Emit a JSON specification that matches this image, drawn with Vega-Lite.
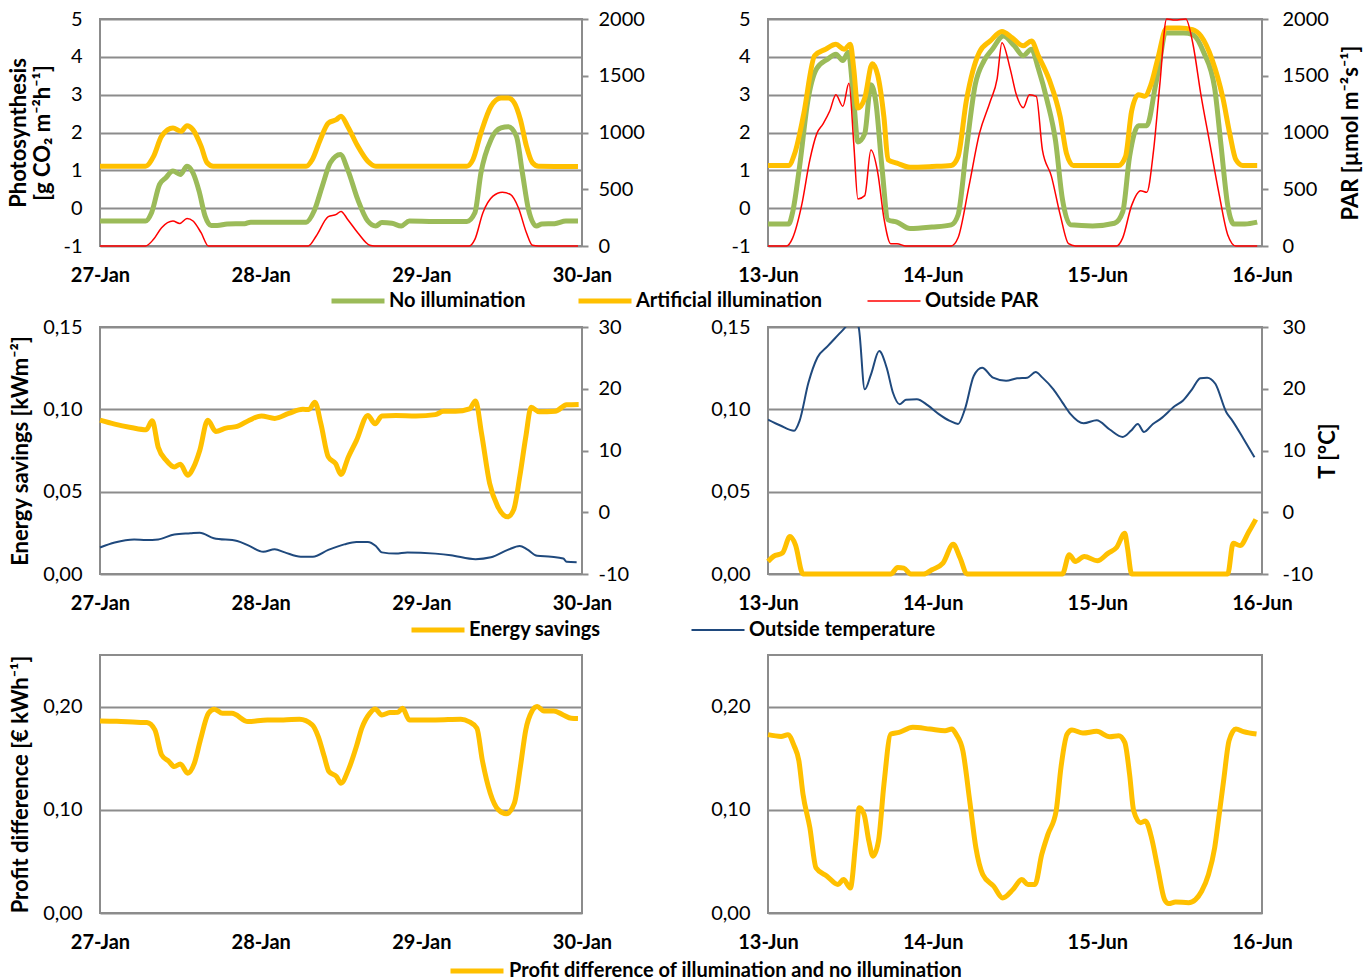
{
  "$schema": "https://vega.github.io/schema/vega-lite/v6.json",
  "padding": {"left": 6, "top": 8, "right": 5, "bottom": 30},
  "bounds": "flush",
  "columns": 2,
  "spacing": {"row": 81, "column": 186},
  "resolve": {"scale": {"color": "independent"}, "legend": {"color": "independent"}},
  "datasets": {
    "janNo": [{"h":0,"v":-0.34},{"h":3,"v":-0.34},{"h":6.8,"v":-0.34},{"h":7.7,"v":-0.12},{"h":8.9,"v":0.63},{"h":9.8,"v":0.8},{"h":10.9,"v":0.98},{"h":12,"v":0.89},{"h":13,"v":1.11},{"h":13.9,"v":0.93},{"h":14.8,"v":0.45},{"h":15.7,"v":-0.21},{"h":16.6,"v":-0.46},{"h":17.5,"v":-0.46},{"h":19,"v":-0.42},{"h":21.6,"v":-0.41},{"h":22.5,"v":-0.37},{"h":26,"v":-0.37},{"h":30.8,"v":-0.37},{"h":32,"v":-0.07},{"h":33.2,"v":0.58},{"h":34.4,"v":1.2},{"h":35.9,"v":1.42},{"h":37,"v":1.02},{"h":38.5,"v":0.23},{"h":40,"v":-0.34},{"h":41.2,"v":-0.47},{"h":42.1,"v":-0.38},{"h":43.6,"v":-0.4},{"h":45,"v":-0.47},{"h":46.2,"v":-0.34},{"h":50,"v":-0.35},{"h":54.8,"v":-0.35},{"h":56,"v":-0.12},{"h":56.9,"v":0.93},{"h":58.4,"v":1.81},{"h":59.9,"v":2.12},{"h":61,"v":2.15},{"h":62.2,"v":1.9},{"h":63.1,"v":0.93},{"h":64,"v":-0.03},{"h":65.2,"v":-0.47},{"h":66,"v":-0.42},{"h":67.9,"v":-0.41},{"h":69.6,"v":-0.34},{"h":71.4,"v":-0.34}],
    "janArt": [{"h":0,"v":1.11},{"h":3,"v":1.11},{"h":6.8,"v":1.11},{"h":8,"v":1.37},{"h":9.2,"v":1.9},{"h":10.9,"v":2.12},{"h":12.1,"v":2.03},{"h":13,"v":2.18},{"h":13.9,"v":2.07},{"h":15.1,"v":1.64},{"h":16,"v":1.2},{"h":16.9,"v":1.11},{"h":20,"v":1.11},{"h":25,"v":1.11},{"h":30.8,"v":1.11},{"h":31.7,"v":1.28},{"h":32.9,"v":1.81},{"h":34.1,"v":2.25},{"h":35.3,"v":2.34},{"h":36,"v":2.43},{"h":37,"v":2.16},{"h":38.5,"v":1.64},{"h":40,"v":1.24},{"h":41.2,"v":1.11},{"h":45,"v":1.11},{"h":50,"v":1.11},{"h":54.8,"v":1.11},{"h":55.7,"v":1.28},{"h":56.9,"v":1.99},{"h":58.4,"v":2.69},{"h":59.9,"v":2.91},{"h":61,"v":2.91},{"h":61.9,"v":2.78},{"h":62.8,"v":2.34},{"h":63.7,"v":1.64},{"h":64.6,"v":1.2},{"h":65.5,"v":1.11},{"h":71.4,"v":1.1}],
    "janPAR": [{"h":0,"v":0},{"h":6.8,"v":0},{"h":8,"v":59},{"h":9.2,"v":161},{"h":10.9,"v":220},{"h":11.9,"v":199},{"h":13,"v":243},{"h":13.9,"v":220},{"h":15.1,"v":117},{"h":16.2,"v":0},{"h":31.1,"v":0},{"h":32.3,"v":88},{"h":34.1,"v":258},{"h":35.3,"v":278},{"h":36,"v":305},{"h":37,"v":234},{"h":38.5,"v":117},{"h":40.3,"v":6},{"h":41,"v":0},{"h":55.1,"v":0},{"h":56,"v":59},{"h":57.2,"v":293},{"h":58.7,"v":439},{"h":60.1,"v":474},{"h":61.3,"v":454},{"h":62.5,"v":337},{"h":63.7,"v":117},{"h":64.6,"v":6},{"h":65.5,"v":0},{"h":71.4,"v":0}],
    "junNo": [{"h":0,"v":-0.42},{"h":3,"v":-0.42},{"h":3.6,"v":-0.1},{"h":4.6,"v":1.1},{"h":5.8,"v":2.83},{"h":7.1,"v":3.69},{"h":8.7,"v":3.94},{"h":9.9,"v":4.07},{"h":10.9,"v":3.9},{"h":11.7,"v":4.12},{"h":12.5,"v":2.83},{"h":13.1,"v":1.75},{"h":14.1,"v":1.97},{"h":15,"v":3.26},{"h":15.7,"v":2.83},{"h":16.6,"v":1.1},{"h":17.5,"v":-0.31},{"h":18.8,"v":-0.37},{"h":20.7,"v":-0.54},{"h":23.9,"v":-0.5},{"h":26.7,"v":-0.44},{"h":27.7,"v":-0.18},{"h":28.9,"v":1.54},{"h":30.2,"v":3.26},{"h":31.5,"v":3.9},{"h":32.7,"v":4.2},{"h":34.3,"v":4.55},{"h":35.9,"v":4.29},{"h":37.2,"v":4.03},{"h":38.4,"v":4.2},{"h":39.4,"v":3.69},{"h":40.7,"v":2.83},{"h":41.9,"v":1.79},{"h":42.9,"v":0.25},{"h":44.1,"v":-0.44},{"h":47.3,"v":-0.47},{"h":50.5,"v":-0.4},{"h":51.7,"v":-0.1},{"h":52.7,"v":1.36},{"h":54,"v":2.18},{"h":55.2,"v":2.18},{"h":56.5,"v":3.26},{"h":58.1,"v":4.63},{"h":60.6,"v":4.63},{"h":61.9,"v":4.59},{"h":63.5,"v":4.12},{"h":65.1,"v":3.17},{"h":66,"v":1.71},{"h":67,"v":0.08},{"h":67.9,"v":-0.42},{"h":69.5,"v":-0.42},{"h":71.3,"v":-0.37}],
    "junArt": [{"h":0,"v":1.13},{"h":3,"v":1.13},{"h":3.9,"v":1.45},{"h":5.2,"v":2.48},{"h":6.8,"v":4.03},{"h":8.4,"v":4.2},{"h":9.9,"v":4.33},{"h":11.1,"v":4.2},{"h":12,"v":4.33},{"h":12.5,"v":3.68},{"h":13.1,"v":2.65},{"h":14.1,"v":2.91},{"h":15.2,"v":3.82},{"h":16,"v":3.51},{"h":16.9,"v":2.4},{"h":17.5,"v":1.28},{"h":18.8,"v":1.19},{"h":20.7,"v":1.08},{"h":23.9,"v":1.1},{"h":26.7,"v":1.13},{"h":27.7,"v":1.36},{"h":28.9,"v":2.83},{"h":30.8,"v":4.12},{"h":32.4,"v":4.42},{"h":34.1,"v":4.67},{"h":35.6,"v":4.5},{"h":37.2,"v":4.29},{"h":38.4,"v":4.42},{"h":39.4,"v":4.03},{"h":41,"v":3.39},{"h":42.6,"v":2.4},{"h":43.5,"v":1.45},{"h":44.5,"v":1.13},{"h":48,"v":1.13},{"h":51.1,"v":1.13},{"h":52.1,"v":1.36},{"h":53,"v":2.57},{"h":54,"v":3},{"h":54.9,"v":2.96},{"h":55.8,"v":3.26},{"h":56.8,"v":3.94},{"h":58.1,"v":4.76},{"h":60,"v":4.76},{"h":61.9,"v":4.72},{"h":63.1,"v":4.55},{"h":64.7,"v":3.94},{"h":66.3,"v":2.91},{"h":67.3,"v":1.97},{"h":68.2,"v":1.28},{"h":69.2,"v":1.13},{"h":71.3,"v":1.13}],
    "junPAR": [{"h":0,"v":0},{"h":2.7,"v":0},{"h":3.6,"v":72},{"h":4.9,"v":358},{"h":6.1,"v":759},{"h":7.1,"v":988},{"h":8,"v":1074},{"h":9,"v":1189},{"h":9.9,"v":1332},{"h":10.9,"v":1232},{"h":11.8,"v":1433},{"h":12.5,"v":902},{"h":13.1,"v":415},{"h":14.1,"v":444},{"h":15,"v":845},{"h":16,"v":645},{"h":16.9,"v":244},{"h":17.9,"v":20},{"h":18.8,"v":20},{"h":20.1,"v":0},{"h":26.7,"v":0},{"h":27.7,"v":72},{"h":29.3,"v":530},{"h":30.8,"v":988},{"h":32.4,"v":1275},{"h":33.4,"v":1475},{"h":34.1,"v":1791},{"h":35.3,"v":1561},{"h":36.2,"v":1332},{"h":37.2,"v":1218},{"h":38.1,"v":1332},{"h":39.1,"v":1318},{"h":40,"v":845},{"h":41.3,"v":616},{"h":42.6,"v":272},{"h":43.8,"v":20},{"h":44.8,"v":0},{"h":50.8,"v":0},{"h":51.7,"v":72},{"h":53,"v":358},{"h":54.3,"v":487},{"h":55.2,"v":473},{"h":56.2,"v":845},{"h":57.1,"v":1418},{"h":58.1,"v":2000},{"h":59.3,"v":1991},{"h":60.9,"v":2000},{"h":61.9,"v":1791},{"h":63.1,"v":1332},{"h":64.4,"v":902},{"h":65.7,"v":473},{"h":67,"v":100},{"h":68.2,"v":0},{"h":71.3,"v":0}],
    "janES": [{"h":0,"v":0.0934},{"h":2.2,"v":0.091},{"h":4.6,"v":0.089},{"h":6.9,"v":0.0876},{"h":7.8,"v":0.093},{"h":8.7,"v":0.077},{"h":9.9,"v":0.069},{"h":11.1,"v":0.065},{"h":12,"v":0.0667},{"h":13.1,"v":0.06},{"h":14,"v":0.065},{"h":14.9,"v":0.075},{"h":16.1,"v":0.0934},{"h":17.3,"v":0.0866},{"h":18.8,"v":0.0886},{"h":20.5,"v":0.0896},{"h":22.3,"v":0.0934},{"h":24.1,"v":0.096},{"h":26.1,"v":0.0945},{"h":28.2,"v":0.0975},{"h":30.3,"v":0.1},{"h":31.2,"v":0.0999},{"h":32.1,"v":0.1043},{"h":33,"v":0.0912},{"h":34.1,"v":0.0711},{"h":35.2,"v":0.067},{"h":36,"v":0.0605},{"h":37.1,"v":0.0711},{"h":38.3,"v":0.081},{"h":40,"v":0.0963},{"h":41.1,"v":0.0912},{"h":42.1,"v":0.096},{"h":44.2,"v":0.0963},{"h":47.2,"v":0.096},{"h":50.1,"v":0.0968},{"h":51.3,"v":0.0988},{"h":53.1,"v":0.0988},{"h":55.2,"v":0.1003},{"h":56.1,"v":0.105},{"h":57,"v":0.0852},{"h":58.2,"v":0.0551},{"h":59.4,"v":0.0411},{"h":60.9,"v":0.0347},{"h":61.8,"v":0.0391},{"h":62.7,"v":0.0591},{"h":63.6,"v":0.0832},{"h":64.4,"v":0.1012},{"h":65.6,"v":0.0985},{"h":68,"v":0.0988},{"h":69.7,"v":0.1028},{"h":71.5,"v":0.103}],
    "janT": [{"h":0,"v":-5.7},{"h":2.2,"v":-4.9},{"h":5.1,"v":-4.4},{"h":6.9,"v":-4.5},{"h":8.7,"v":-4.4},{"h":11.1,"v":-3.6},{"h":13.5,"v":-3.4},{"h":14.9,"v":-3.3},{"h":17,"v":-4.2},{"h":20.5,"v":-4.65},{"h":22.3,"v":-5.45},{"h":24.4,"v":-6.4},{"h":26.1,"v":-6},{"h":27.6,"v":-6.5},{"h":30,"v":-7.2},{"h":31.8,"v":-7.2},{"h":34.1,"v":-6.1},{"h":36.5,"v":-5.2},{"h":38.3,"v":-4.8},{"h":40,"v":-4.8},{"h":41.2,"v":-5.45},{"h":42.1,"v":-6.5},{"h":44.2,"v":-6.7},{"h":45.9,"v":-6.5},{"h":50.1,"v":-6.7},{"h":52.4,"v":-6.95},{"h":56.1,"v":-7.6},{"h":58.4,"v":-7.3},{"h":60.9,"v":-6.1},{"h":62.7,"v":-5.45},{"h":63.8,"v":-6},{"h":65.3,"v":-7.05},{"h":67.4,"v":-7.2},{"h":69.2,"v":-7.5},{"h":69.7,"v":-8},{"h":71.2,"v":-8.1}],
    "junES": [{"h":0,"v":0.0076},{"h":0.8,"v":0.0107},{"h":2.1,"v":0.0127},{"h":3.2,"v":0.0227},{"h":4,"v":0.0177},{"h":5.1,"v":0},{"h":17.9,"v":0},{"h":18.9,"v":0.004},{"h":19.8,"v":0.0036},{"h":20.8,"v":0},{"h":22.7,"v":0},{"h":23.9,"v":0.0026},{"h":25.5,"v":0.0066},{"h":27,"v":0.018},{"h":28,"v":0.0097},{"h":29,"v":0},{"h":42.9,"v":0},{"h":43.9,"v":0.0117},{"h":44.8,"v":0.0076},{"h":46.1,"v":0.0107},{"h":48,"v":0.008},{"h":49.6,"v":0.0127},{"h":50.8,"v":0.0161},{"h":52,"v":0.0247},{"h":52.4,"v":0.0157},{"h":53,"v":0},{"h":67,"v":0},{"h":67.8,"v":0.0187},{"h":68.8,"v":0.0173},{"h":70.1,"v":0.0258},{"h":71.1,"v":0.0332}],
    "junT": [{"h":0,"v":15},{"h":1.8,"v":14.05},{"h":3.8,"v":13.2},{"h":4.6,"v":14.8},{"h":5.9,"v":21},{"h":7.2,"v":25.05},{"h":8.7,"v":26.9},{"h":10.3,"v":28.8},{"h":11.3,"v":30},{"h":12.2,"v":31.5},{"h":13.2,"v":30},{"h":14.1,"v":19.9},{"h":15,"v":22.3},{"h":16.2,"v":26.1},{"h":17.3,"v":23.4},{"h":18.2,"v":19.4},{"h":19.2,"v":17.5},{"h":20.1,"v":18.2},{"h":21.7,"v":18.3},{"h":23.3,"v":17.3},{"h":24.9,"v":15.9},{"h":26.5,"v":14.8},{"h":27.7,"v":14.3},{"h":28.7,"v":16.7},{"h":30,"v":22.1},{"h":31.2,"v":23.4},{"h":32.8,"v":21.8},{"h":34.7,"v":21.3},{"h":36.3,"v":21.7},{"h":37.8,"v":21.8},{"h":39,"v":22.7},{"h":40,"v":21.8},{"h":41.6,"v":19.9},{"h":42.9,"v":17.8},{"h":44.1,"v":15.9},{"h":46,"v":14.4},{"h":47.9,"v":14.9},{"h":49.8,"v":13.4},{"h":51.7,"v":12.2},{"h":52.9,"v":13.2},{"h":53.9,"v":14.3},{"h":54.8,"v":13},{"h":56.1,"v":14.3},{"h":57.3,"v":15.2},{"h":59.3,"v":17.2},{"h":60.5,"v":18.1},{"h":61.8,"v":19.9},{"h":63,"v":21.7},{"h":64,"v":21.8},{"h":65.2,"v":20.8},{"h":66.8,"v":16.2},{"h":67.7,"v":14.8},{"h":69.3,"v":11.9},{"h":70.9,"v":8.9}],
    "janPD": [{"h":0,"v":0.1861},{"h":2.5,"v":0.1858},{"h":5.5,"v":0.1848},{"h":7,"v":0.1845},{"h":8.2,"v":0.1774},{"h":9.2,"v":0.1532},{"h":10.3,"v":0.1468},{"h":11.1,"v":0.1419},{"h":12,"v":0.1445},{"h":13.1,"v":0.1355},{"h":14.1,"v":0.1452},{"h":15,"v":0.1677},{"h":16.2,"v":0.1935},{"h":17.1,"v":0.1974},{"h":18.3,"v":0.1935},{"h":19.7,"v":0.1935},{"h":22.1,"v":0.1855},{"h":25,"v":0.1871},{"h":27.4,"v":0.1871},{"h":29.8,"v":0.1877},{"h":31.7,"v":0.1823},{"h":32.6,"v":0.171},{"h":33.5,"v":0.1516},{"h":34.2,"v":0.1371},{"h":35.3,"v":0.1323},{"h":36,"v":0.1258},{"h":37.1,"v":0.1387},{"h":38.3,"v":0.1613},{"h":39.1,"v":0.179},{"h":40.3,"v":0.1935},{"h":41.1,"v":0.1977},{"h":42.1,"v":0.1919},{"h":43.3,"v":0.1942},{"h":44.5,"v":0.1945},{"h":45.2,"v":0.1984},{"h":46.2,"v":0.1871},{"h":50.1,"v":0.1871},{"h":53.9,"v":0.1877},{"h":55.1,"v":0.1855},{"h":56.3,"v":0.179},{"h":57.1,"v":0.1484},{"h":58.3,"v":0.1161},{"h":59.5,"v":0.1},{"h":60.7,"v":0.0961},{"h":61.9,"v":0.1065},{"h":62.8,"v":0.1419},{"h":63.6,"v":0.1774},{"h":64.5,"v":0.1952},{"h":65.3,"v":0.2},{"h":66.3,"v":0.1958},{"h":67.8,"v":0.1958},{"h":69.2,"v":0.1919},{"h":70.4,"v":0.1887},{"h":71.4,"v":0.1884}],
    "junPD": [{"h":0,"v":0.1728},{"h":1.9,"v":0.1711},{"h":2.9,"v":0.1728},{"h":3.8,"v":0.1621},{"h":4.5,"v":0.1475},{"h":5.1,"v":0.1151},{"h":6.1,"v":0.0827},{"h":7,"v":0.0438},{"h":8.6,"v":0.0357},{"h":10.2,"v":0.0276},{"h":11,"v":0.0324},{"h":12,"v":0.0243},{"h":12.8,"v":0.0697},{"h":13.3,"v":0.1021},{"h":14,"v":0.0956},{"h":14.7,"v":0.0697},{"h":15.3,"v":0.0551},{"h":16.1,"v":0.0697},{"h":16.9,"v":0.1248},{"h":17.9,"v":0.1734},{"h":19.1,"v":0.175},{"h":21.1,"v":0.1799},{"h":23.6,"v":0.1783},{"h":25.8,"v":0.1767},{"h":26.8,"v":0.1783},{"h":27.4,"v":0.1734},{"h":28.4,"v":0.1572},{"h":29.4,"v":0.1086},{"h":30.3,"v":0.0632},{"h":31.3,"v":0.0373},{"h":32.9,"v":0.0259},{"h":34.2,"v":0.0146},{"h":35.7,"v":0.0227},{"h":37,"v":0.0324},{"h":37.9,"v":0.0276},{"h":38.9,"v":0.0276},{"h":39.9,"v":0.0567},{"h":40.8,"v":0.0762},{"h":42,"v":0.099},{"h":42.7,"v":0.141},{"h":43.6,"v":0.1734},{"h":44.3,"v":0.1773},{"h":45.9,"v":0.1744},{"h":47.9,"v":0.176},{"h":49.8,"v":0.1708},{"h":51.1,"v":0.1718},{"h":52,"v":0.1653},{"h":52.7,"v":0.1345},{"h":53.3,"v":0.099},{"h":54.3,"v":0.0875},{"h":55,"v":0.0891},{"h":55.9,"v":0.0729},{"h":56.8,"v":0.0438},{"h":57.8,"v":0.013},{"h":58.4,"v":0.0091},{"h":59.4,"v":0.0107},{"h":61.3,"v":0.01},{"h":62.3,"v":0.013},{"h":63.2,"v":0.0211},{"h":64.2,"v":0.0373},{"h":65.1,"v":0.0632},{"h":65.7,"v":0.0924},{"h":66.4,"v":0.128},{"h":67.2,"v":0.167},{"h":68.2,"v":0.1783},{"h":69.3,"v":0.1757},{"h":71.2,"v":0.1734}]
  },
  "concat": [
    {
      "width": 482, "height": 227,
      "resolve": {"scale": {"y": "independent"}},
      "layer": [
        {
          "layer": [
            {
              "data": {"name": "janNo"},
              "mark": {"type": "line", "interpolate": "monotone", "strokeWidth": 5},
              "encoding": {
                "x": {"field": "h", "type": "quantitative", "title": null, "scale": {"domain": [0, 72], "nice": false},
                  "axis": {"values": [0, 24, 48, 72], "tickCount": 10, "grid": false, "labelExpr": "['27-Jan','28-Jan','29-Jan','30-Jan'][datum.value/24]"}},
                "y": {"field": "v", "type": "quantitative", "scale": {"domain": [-1, 5], "nice": false},
                  "title": ["Photosynthesis", "[g CO₂ m⁻²h⁻¹]"],
                  "axis": {"values": [-1, 0, 1, 2, 3, 4, 5], "tickCount": 10, "labelOverlap": false, "grid": true, "labelExpr": "'' + datum.value", "titleLineHeight": 24, "titlePadding": 8}},
                "color": {"datum": "No illumination", "type": "nominal",
                  "scale": {"domain": ["No illumination", "Artificial illumination", "Outside PAR"], "range": ["#9BBB59", "#FFC000", "#FF0000"]},
                  "legend": {"orient": "none", "legendX": 248, "legendY": 272, "direction": "horizontal", "columnPadding": 42, "title": null,
                    "encode": {"symbols": {"update": {"strokeWidth": {"signal": "datum.value === 'Outside PAR' ? 1.5 : 5"}}}}}}
              }
            },
            {
              "data": {"name": "janArt"},
              "mark": {"type": "line", "interpolate": "monotone", "strokeWidth": 5},
              "encoding": {
                "x": {"field": "h", "type": "quantitative", "title": null},
                "y": {"field": "v", "type": "quantitative"},
                "color": {"datum": "Artificial illumination", "type": "nominal"}
              }
            }
          ]
        },
        {
          "data": {"name": "janPAR"},
          "mark": {"type": "line", "interpolate": "monotone", "strokeWidth": 1.5},
          "encoding": {
            "x": {"field": "h", "type": "quantitative", "title": null},
            "y": {"field": "v", "type": "quantitative", "title": null, "scale": {"domain": [0, 2000], "nice": false},
              "axis": {"orient": "right", "values": [0, 500, 1000, 1500, 2000], "tickCount": 10, "labelOverlap": false, "grid": false, "ticks": true, "tickSize": 6, "tickWidth": 2, "tickColor": "#8c8c8c", "labelPadding": 10, "labelExpr": "'' + datum.value"}},
            "color": {"datum": "Outside PAR", "type": "nominal"}
          }
        }
      ]
    },
    {
      "width": 494, "height": 227,
      "resolve": {"scale": {"y": "independent"}},
      "layer": [
        {
          "layer": [
            {
              "data": {"name": "junNo"},
              "mark": {"type": "line", "interpolate": "monotone", "strokeWidth": 5, "color": "#9BBB59"},
              "encoding": {
                "x": {"field": "h", "type": "quantitative", "title": null, "scale": {"domain": [0, 72], "nice": false},
                  "axis": {"values": [0, 24, 48, 72], "tickCount": 10, "grid": false, "labelExpr": "['13-Jun','14-Jun','15-Jun','16-Jun'][datum.value/24]"}},
                "y": {"field": "v", "type": "quantitative", "title": null, "scale": {"domain": [-1, 5], "nice": false},
                  "axis": {"values": [-1, 0, 1, 2, 3, 4, 5], "tickCount": 10, "labelOverlap": false, "grid": true, "labelExpr": "'' + datum.value"}}
              }
            },
            {
              "data": {"name": "junArt"},
              "mark": {"type": "line", "interpolate": "monotone", "strokeWidth": 5, "color": "#FFC000"},
              "encoding": {
                "x": {"field": "h", "type": "quantitative", "title": null},
                "y": {"field": "v", "type": "quantitative", "title": null}
              }
            }
          ]
        },
        {
          "data": {"name": "junPAR"},
          "mark": {"type": "line", "interpolate": "monotone", "strokeWidth": 1.5, "color": "#FF0000"},
          "encoding": {
            "x": {"field": "h", "type": "quantitative", "title": null},
            "y": {"field": "v", "type": "quantitative", "title": "PAR [µmol m⁻²s⁻¹]", "scale": {"domain": [0, 2000], "nice": false},
              "axis": {"orient": "right", "values": [0, 500, 1000, 1500, 2000], "tickCount": 10, "labelOverlap": false, "grid": false, "ticks": true, "tickSize": 6, "tickWidth": 2, "tickColor": "#8c8c8c", "labelPadding": 14, "labelExpr": "'' + datum.value", "titleAngle": -90, "titleBaseline": "top", "titlePadding": 12}}
          }
        }
      ]
    },
    {
      "width": 482, "height": 247,
      "resolve": {"scale": {"y": "independent"}},
      "layer": [
        {
          "data": {"name": "janES"},
          "mark": {"type": "line", "interpolate": "monotone", "strokeWidth": 5},
          "encoding": {
            "x": {"field": "h", "type": "quantitative", "title": null, "scale": {"domain": [0, 72], "nice": false},
              "axis": {"values": [0, 24, 48, 72], "tickCount": 10, "grid": false, "labelExpr": "['27-Jan','28-Jan','29-Jan','30-Jan'][datum.value/24]"}},
            "y": {"field": "v", "type": "quantitative", "title": "Energy savings  [kWm⁻²]", "scale": {"domain": [0, 0.15], "nice": false},
              "axis": {"values": [0, 0.05, 0.1, 0.15], "tickCount": 10, "labelOverlap": false, "grid": true, "labelExpr": "replace(format(datum.value, '.2f'), '.', ',')", "titlePadding": 10}},
            "color": {"datum": "Energy savings", "type": "nominal",
              "scale": {"domain": ["Energy savings", "Outside temperature"], "range": ["#FFC000", "#1F497D"]},
              "legend": {"orient": "none", "legendX": 328, "legendY": 293, "direction": "horizontal", "columnPadding": 86, "title": null,
                "encode": {"symbols": {"update": {"strokeWidth": {"signal": "datum.value === 'Outside temperature' ? 2 : 5"}}}}}}
          }
        },
        {
          "data": {"name": "janT"},
          "mark": {"type": "line", "interpolate": "monotone", "strokeWidth": 2},
          "encoding": {
            "x": {"field": "h", "type": "quantitative", "title": null},
            "y": {"field": "v", "type": "quantitative", "title": null, "scale": {"domain": [-10, 30], "nice": false},
              "axis": {"orient": "right", "values": [-10, 0, 10, 20, 30], "tickCount": 10, "labelOverlap": false, "grid": false, "ticks": true, "tickSize": 6, "tickWidth": 2, "tickColor": "#8c8c8c", "labelPadding": 10, "labelExpr": "'' + datum.value"}},
            "color": {"datum": "Outside temperature", "type": "nominal"}
          }
        }
      ]
    },
    {
      "width": 494, "height": 247,
      "resolve": {"scale": {"y": "independent"}},
      "layer": [
        {
          "data": {"name": "junES"},
          "mark": {"type": "line", "interpolate": "monotone", "strokeWidth": 5, "color": "#FFC000"},
          "encoding": {
            "x": {"field": "h", "type": "quantitative", "title": null, "scale": {"domain": [0, 72], "nice": false},
              "axis": {"values": [0, 24, 48, 72], "tickCount": 10, "grid": false, "labelExpr": "['13-Jun','14-Jun','15-Jun','16-Jun'][datum.value/24]"}},
            "y": {"field": "v", "type": "quantitative", "title": null, "scale": {"domain": [0, 0.15], "nice": false},
              "axis": {"values": [0, 0.05, 0.1, 0.15], "tickCount": 10, "labelOverlap": false, "grid": true, "labelExpr": "replace(format(datum.value, '.2f'), '.', ',')"}}
          }
        },
        {
          "data": {"name": "junT"},
          "mark": {"type": "line", "interpolate": "monotone", "strokeWidth": 2, "color": "#1F497D", "clip": true},
          "encoding": {
            "x": {"field": "h", "type": "quantitative", "title": null},
            "y": {"field": "v", "type": "quantitative", "title": "T [°C]", "scale": {"domain": [-10, 30], "nice": false},
              "axis": {"orient": "right", "values": [-10, 0, 10, 20, 30], "tickCount": 10, "labelOverlap": false, "grid": false, "ticks": true, "tickSize": 6, "tickWidth": 2, "tickColor": "#8c8c8c", "labelPadding": 14, "labelExpr": "'' + datum.value", "titleAngle": -90, "titleBaseline": "top", "titlePadding": 5}}
          }
        }
      ]
    },
    {
      "width": 482, "height": 258,
      "layer": [
        {
          "data": {"name": "janPD"},
          "mark": {"type": "line", "interpolate": "monotone", "strokeWidth": 5},
          "encoding": {
            "x": {"field": "h", "type": "quantitative", "title": null, "scale": {"domain": [0, 72], "nice": false},
              "axis": {"values": [0, 24, 48, 72], "tickCount": 10, "grid": false, "labelExpr": "['27-Jan','28-Jan','29-Jan','30-Jan'][datum.value/24]"}},
            "y": {"field": "v", "type": "quantitative", "title": "Profit difference [€ kWh⁻¹]", "scale": {"domain": [0, 0.25], "nice": false},
              "axis": {"values": [0, 0.1, 0.2], "tickCount": 10, "labelOverlap": false, "grid": true, "labelExpr": "replace(format(datum.value, '.2f'), '.', ',')", "titlePadding": 10}},
            "color": {"datum": "Profit difference of illumination and no illumination", "type": "nominal",
              "scale": {"domain": ["Profit difference of illumination and no illumination"], "range": ["#FFC000"]},
              "legend": {"orient": "none", "legendX": 348, "legendY": 287, "direction": "horizontal", "title": null, "labelOffset": 3,
                "encode": {"symbols": {"update": {"strokeWidth": {"value": 5}, "stroke": {"value": "#FFC000"}}}}}}
          }
        }
      ]
    },
    {
      "width": 494, "height": 258,
      "data": {"name": "junPD"},
      "mark": {"type": "line", "interpolate": "monotone", "strokeWidth": 5, "color": "#FFC000"},
      "encoding": {
        "x": {"field": "h", "type": "quantitative", "title": null, "scale": {"domain": [0, 72], "nice": false},
          "axis": {"values": [0, 24, 48, 72], "tickCount": 10, "grid": false, "labelExpr": "['13-Jun','14-Jun','15-Jun','16-Jun'][datum.value/24]"}},
        "y": {"field": "v", "type": "quantitative", "title": null, "scale": {"domain": [0, 0.25], "nice": false},
          "axis": {"values": [0, 0.1, 0.2], "tickCount": 10, "labelOverlap": false, "grid": true, "labelExpr": "replace(format(datum.value, '.2f'), '.', ',')"}}
      }
    }
  ],
  "config": {
    "font": "Lato",
    "view": {"stroke": "#8c8c8c", "strokeWidth": 2},
    "axis": {"labelFont": "Lato", "labelFontSize": 20, "labelColor": "#000000", "titleFont": "Lato", "titleFontSize": 22, "titleFontWeight": "bold", "titleColor": "#000000", "domain": false, "ticks": false, "gridColor": "#8c8c8c", "gridWidth": 2, "labelOverlap": false, "labelFlush": false},
    "axisX": {"labelFontWeight": "bold", "labelPadding": 19},
    "axisLeft": {"labelPadding": 18},
    "legend": {"labelFont": "Lato", "labelFontSize": 20, "labelFontWeight": "bold", "labelColor": "#000000", "labelLimit": 0, "symbolType": "stroke", "symbolSize": 2809, "symbolStrokeWidth": 5, "labelOffset": 21}
  }
}
